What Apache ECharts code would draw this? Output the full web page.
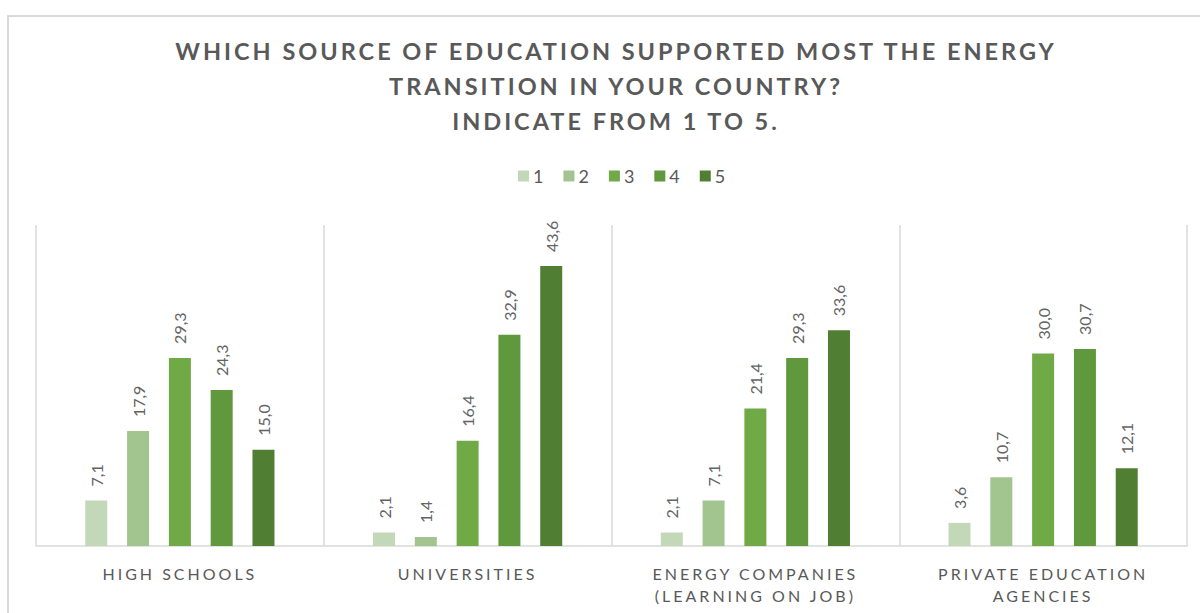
<!DOCTYPE html>
<html>
<head>
<meta charset="utf-8">
<script src="https://cdn.jsdelivr.net/npm/echarts@6/dist/echarts.min.js"></script>
<style>
  html, body { margin: 0; padding: 0; background: #fff; }
  #chart { width: 1200px; height: 613px; }
  /* tracking for the title and the category names (svg text) */
  #chart text[style*="Arial"] { letter-spacing: 3px; }
  #chart text[style*="sans-serif"] { letter-spacing: 3px; }
</style>
</head>
<body>
<div id="chart"></div>
<script>
// Survey answers, share of respondents (%) per rating 1..5
const categories = [
  'HIGH SCHOOLS',
  'UNIVERSITIES',
  'ENERGY COMPANIES\n(LEARNING ON JOB)',
  'PRIVATE EDUCATION\nAGENCIES'
];
const ratingNames = ['1', '2', '3', '4', '5'];
const rating1 = [7.1, 2.1, 2.1, 3.6];
const rating2 = [17.9, 1.4, 7.1, 10.7];
const rating3 = [29.3, 16.4, 21.4, 30.0];
const rating4 = [24.3, 32.9, 29.3, 30.7];
const rating5 = [15.0, 43.6, 33.6, 12.1];

const ratingValues = [rating1, rating2, rating3, rating4, rating5];
const ratingColors = ['#c3d8b8', '#a2c48f', '#6faa46', '#5f983d', '#507e33'];

const chart = echarts.init(document.getElementById('chart'), null, { renderer: 'svg' });

const series = ratingNames.map((name, i) => ({
  name: name,
  type: 'bar',
  data: ratingValues[i],
  barWidth: 22,
  barGap: '90%',
  itemStyle: { color: ratingColors[i] },
  label: {
    show: true,
    position: 'top',
    distance: 14,
    rotate: 90,
    align: 'left',
    verticalAlign: 'middle',
    color: '#646464',
    fontFamily: 'Lato',
    fontSize: 16,
    formatter: p => p.value.toFixed(1).replace('.', ',')
  }
}));

chart.setOption({
  animation: false,
  backgroundColor: '#ffffff',
  title: {
    text: 'WHICH SOURCE OF EDUCATION SUPPORTED MOST THE ENERGY\nTRANSITION IN YOUR COUNTRY?\nINDICATE FROM 1 TO 5.',
    left: 611,
    top: 28,
    textAlign: 'center',
    textStyle: {
      fontFamily: 'Lato, Arial',
      fontWeight: 'bold',
      fontSize: 23.5,
      lineHeight: 35,
      color: '#595959'
    }
  },
  legend: {
    data: ratingNames,
    top: 162,
    left: 513,
    itemWidth: 11,
    itemHeight: 11,
    itemGap: 20,
    icon: 'rect',
    textStyle: { fontFamily: 'Lato', fontSize: 18, color: '#595959', padding: [0, 0, 0, -1] }
  },
  graphic: [{
    type: 'rect',
    silent: true,
    z: -1,
    shape: { x: 8, y: 16, width: 1230, height: 640 },
    style: { fill: 'none', stroke: '#d9d9d9', lineWidth: 2 }
  }],
  grid: { left: 36, right: 13, top: 225, bottom: 67, containLabel: false },
  xAxis: {
    type: 'category',
    data: categories,
    axisLine: { show: true, lineStyle: { color: '#d9d9d9', width: 1.5 } },
    axisTick: { show: false },
    splitLine: { show: true, lineStyle: { color: '#d9d9d9', width: 1.5 } },
    axisLabel: {
      margin: 16,
      color: '#595959',
      fontFamily: 'Lato, sans-serif',
      fontSize: 16,
      lineHeight: 22
    }
  },
  yAxis: {
    type: 'value',
    min: 0,
    max: 50,
    show: false,
    splitLine: { show: false }
  },
  series: series
});
</script>
</body>
</html>
